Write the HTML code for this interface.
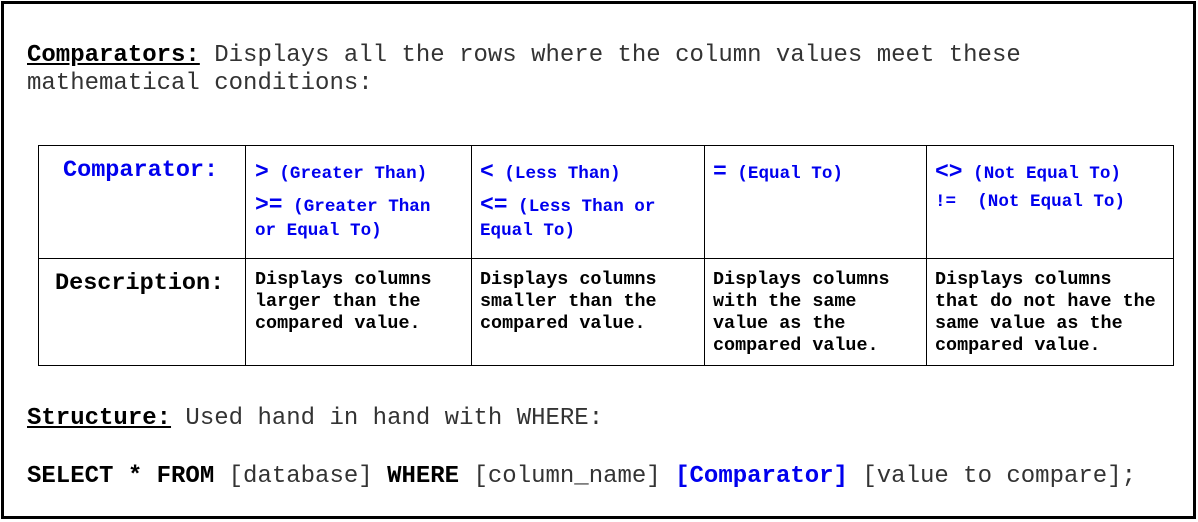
<!DOCTYPE html>
<html><head><style>
body{margin:0;width:1198px;height:522px;background:#fff;position:relative;overflow:hidden;font-family:"Liberation Mono","Courier New",monospace;}
.frame{position:absolute;left:1px;top:1px;width:1189px;height:512px;border:3px solid #000;box-sizing:content-box;}
.t{position:absolute;white-space:pre;line-height:1;}
.h{font-size:24px;color:#333;}
.b{font-weight:bold;color:#000;}
.u{text-decoration:underline;}
.blue{color:#0000ee;}
.sm{font-size:17.6px;font-weight:bold;}
.d{font-size:18.4px;font-weight:bold;color:#000;line-height:22px;}
.line{position:absolute;background:#000;}
</style></head><body>
<div class="frame"></div>
<div class="t h" style="left:27px;top:42px;line-height:28px"><span class="b u">Comparators:</span> Displays all the rows where the column values meet these
mathematical conditions:</div>

<div class="line" style="left:38px;top:145px;width:1136px;height:1px"></div>
<div class="line" style="left:38px;top:258px;width:1136px;height:1px"></div>
<div class="line" style="left:38px;top:365px;width:1136px;height:1px"></div>
<div class="line" style="left:38px;top:145px;width:1px;height:221px"></div>
<div class="line" style="left:245px;top:145px;width:1px;height:221px"></div>
<div class="line" style="left:471px;top:145px;width:1px;height:221px"></div>
<div class="line" style="left:704px;top:145px;width:1px;height:221px"></div>
<div class="line" style="left:926px;top:145px;width:1px;height:221px"></div>
<div class="line" style="left:1173px;top:145px;width:1px;height:221px"></div>

<div class="t b blue" style="left:63px;top:159px;font-size:23.5px;color:#0000ee">Comparator:</div>
<div class="t b" style="left:55px;top:272px;font-size:23.5px">Description:</div>

<div class="t blue sm" style="left:255px;top:161px"><span style="font-size:23px">&gt;</span> (Greater Than)</div>
<div class="t blue sm" style="left:255px;top:194px"><span style="font-size:23px">&gt;=</span> (Greater Than</div>
<div class="t blue sm" style="left:255px;top:223px">or Equal To)</div>

<div class="t blue sm" style="left:480px;top:161px"><span style="font-size:23px">&lt;</span> (Less Than)</div>
<div class="t blue sm" style="left:480px;top:194px"><span style="font-size:23px">&lt;=</span> (Less Than or</div>
<div class="t blue sm" style="left:480px;top:223px">Equal To)</div>

<div class="t blue sm" style="left:713px;top:161px"><span style="font-size:23px">=</span> (Equal To)</div>

<div class="t blue sm" style="left:935px;top:161px"><span style="font-size:23px">&lt;&gt;</span> (Not Equal To)</div>
<div class="t blue sm" style="left:935px;top:194px">!=  (Not Equal To)</div>

<div class="t d" style="left:255px;top:269px">Displays columns
larger than the
compared value.</div>
<div class="t d" style="left:480px;top:269px">Displays columns
smaller than the
compared value.</div>
<div class="t d" style="left:713px;top:269px">Displays columns
with the same
value as the
compared value.</div>
<div class="t d" style="left:935px;top:269px">Displays columns
that do not have the
same value as the
compared value.</div>

<div class="t h" style="left:27px;top:407px"><span class="b u">Structure:</span> Used hand in hand with WHERE:</div>
<div class="t h" style="left:27px;top:465px"><span class="b">SELECT * FROM</span> [database] <span class="b">WHERE</span> [column_name] <span class="b blue" style="color:#0000ee">[Comparator]</span> [value to compare];</div>
</body></html>
